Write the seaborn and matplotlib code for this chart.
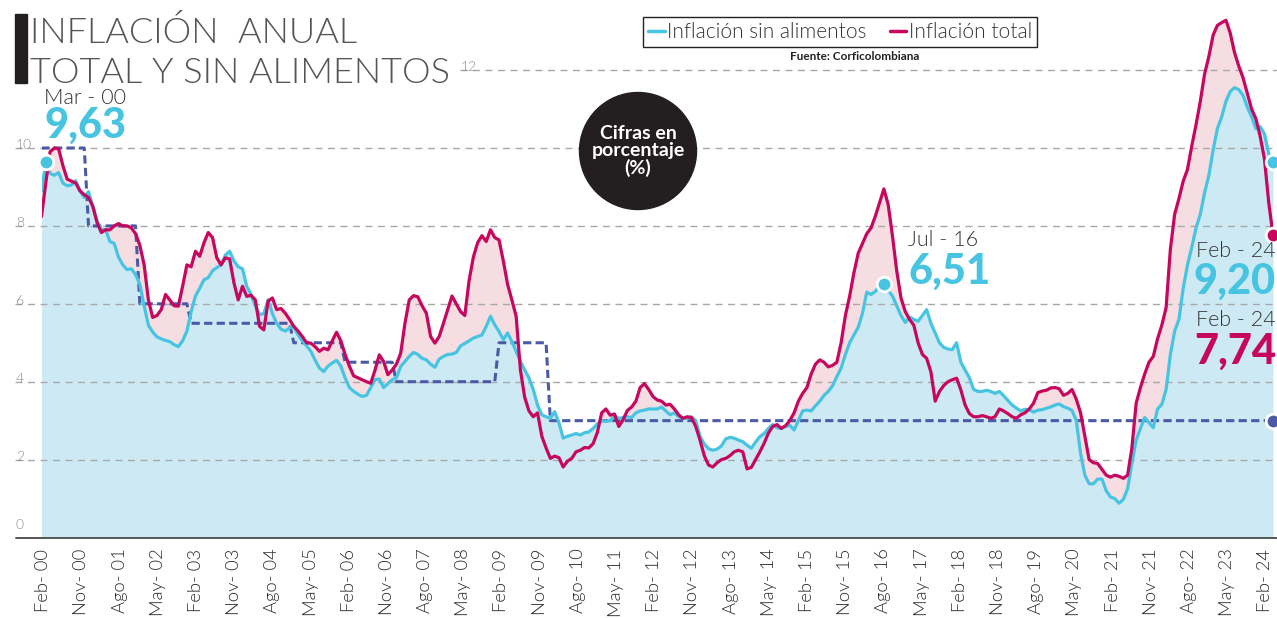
import numpy as np
import pandas as pd
import seaborn as sns
import matplotlib.pyplot as plt
from matplotlib.lines import Line2D
from matplotlib.patches import Ellipse, Rectangle

# Inflación anual mensual, feb-2000 a feb-2024 (una fila por año, de febrero a enero)
inflacion_total = [
    8.24, 9.1, 9.9, 10.0, 9.98, 9.55, 9.2, 9.15, 9.1, 8.9, 8.8, 8.73,
    8.5, 8.08, 7.83, 7.9, 7.9, 8.0, 8.06, 8.0, 8.0, 7.95, 7.8, 7.5,
    7.0, 6.1, 5.65, 5.7, 5.85, 6.24, 6.1, 5.95, 5.94, 6.45, 7.0, 6.95,
    7.35, 7.22, 7.57, 7.83, 7.7, 7.18, 7.0, 7.18, 7.15, 6.54, 6.1, 6.45,
    6.19, 6.22, 6.1, 5.42, 5.33, 6.07, 6.15, 5.85, 5.88, 5.76, 5.6, 5.42,
    5.3, 5.16, 5.0, 4.99, 4.9, 4.78, 4.86, 4.82, 5.05, 5.27, 5.05, 4.7,
    4.4, 4.15, 4.1, 4.05, 4.0, 3.96, 4.3, 4.69, 4.52, 4.18, 4.3, 4.45,
    4.73, 5.5, 6.1, 6.21, 6.18, 5.95, 5.76, 5.16, 4.99, 5.16, 5.5, 5.85,
    6.2, 6.0, 5.8, 5.7, 6.6, 7.2, 7.57, 7.75, 7.6, 7.9, 7.7, 7.64,
    7.1, 6.5, 6.1, 5.68, 4.3, 3.6, 3.25, 3.1, 3.2, 2.6, 2.3, 2.03,
    2.09, 2.05, 1.81, 1.96, 2.03, 2.2, 2.24, 2.31, 2.3, 2.41, 2.7, 3.2,
    3.3, 3.14, 3.17, 2.85, 3.02, 3.26, 3.35, 3.5, 3.85, 3.95, 3.8, 3.62,
    3.53, 3.5, 3.4, 3.42, 3.3, 3.15, 3.06, 3.1, 3.08, 2.85, 2.5, 2.1,
    1.86, 1.81, 1.92, 2.0, 2.03, 2.1, 2.2, 2.24, 2.2, 1.76, 1.8, 2.0,
    2.2, 2.42, 2.68, 2.85, 2.9, 2.8, 2.87, 3.0, 3.2, 3.5, 3.7, 3.85,
    4.2, 4.45, 4.56, 4.5, 4.38, 4.42, 4.5, 5.0, 5.7, 6.2, 6.8, 7.3,
    7.55, 7.8, 7.95, 8.25, 8.6, 8.95, 8.55, 7.75, 6.85, 6.15, 5.8, 5.6,
    5.45, 5.0, 4.7, 4.6, 4.25, 3.5, 3.75, 3.9, 4.0, 4.05, 4.09, 3.79,
    3.4, 3.18, 3.1, 3.1, 3.13, 3.1, 3.06, 3.1, 3.3, 3.25, 3.18, 3.1,
    3.06, 3.15, 3.2, 3.3, 3.45, 3.72, 3.76, 3.78, 3.84, 3.85, 3.82, 3.65,
    3.7, 3.8, 3.55, 3.2, 2.6, 2.0, 1.92, 1.9, 1.75, 1.6, 1.55, 1.6,
    1.57, 1.52, 1.6, 2.3, 3.45, 3.85, 4.2, 4.5, 4.65, 5.1, 5.45, 5.9,
    7.4, 8.3, 8.7, 9.15, 9.45, 10.05, 10.6, 11.2, 11.9, 12.35, 12.9, 13.15,
    13.22, 13.28, 12.95, 12.45, 12.1, 11.8, 11.4, 11.0, 10.75, 10.3, 9.72, 8.6,
    7.76,
]

inflacion_sin_alimentos = [
    8.9, 9.63, 9.35, 9.3, 9.37, 9.1, 9.03, 9.05, 9.16, 8.9, 8.73, 8.88,
    8.5, 8.13, 7.91, 7.9, 7.6, 7.55, 7.2, 7.0, 6.88, 6.9, 6.75, 6.5,
    5.95, 5.45, 5.28, 5.15, 5.1, 5.06, 5.03, 4.95, 4.9, 5.05, 5.3, 5.8,
    6.2, 6.4, 6.62, 6.67, 6.85, 6.93, 7.0, 7.25, 7.35, 7.1, 6.95, 6.9,
    6.45, 6.24, 5.95, 5.72, 5.75, 6.1, 5.75, 5.5, 5.35, 5.3, 5.38, 5.42,
    5.2, 5.05, 4.92, 4.78, 4.55, 4.35, 4.26, 4.4, 4.48, 4.55, 4.4, 4.1,
    3.85, 3.75, 3.68, 3.62, 3.65, 3.85, 4.05, 4.07, 3.85, 3.95, 4.05, 4.1,
    4.39, 4.52, 4.65, 4.75, 4.7, 4.6, 4.56, 4.45, 4.37, 4.58, 4.65, 4.7,
    4.71, 4.75, 4.92, 4.98, 5.05, 5.12, 5.16, 5.2, 5.42, 5.68, 5.46, 5.29,
    5.08, 5.25, 5.03, 4.78, 4.52, 4.3, 4.1, 3.8, 3.4, 3.15, 3.1, 3.06,
    3.23, 2.95, 2.55, 2.6, 2.63, 2.67, 2.63, 2.69, 2.71, 2.8, 2.92, 3.0,
    2.98, 3.0, 3.12, 3.06, 3.08, 3.1, 3.08, 3.2, 3.25, 3.27, 3.3, 3.3,
    3.3, 3.35, 3.25, 3.15, 3.2, 3.1, 3.06, 3.06, 3.1, 3.0, 2.6, 2.4,
    2.28, 2.24, 2.27, 2.35, 2.53, 2.57, 2.55, 2.5, 2.46, 2.37, 2.29, 2.45,
    2.59, 2.67, 2.8, 2.9, 2.82, 2.8, 2.85, 2.88, 2.76, 3.0, 3.25, 3.27,
    3.25, 3.38, 3.5, 3.65, 3.75, 3.9, 4.13, 4.35, 4.7, 5.0, 5.2, 5.4,
    5.76, 6.3, 6.24, 6.32, 6.45, 6.51, 6.35, 6.2, 5.95, 5.7, 5.52, 5.66,
    5.6, 5.55, 5.7, 5.85, 5.5, 5.25, 5.0, 4.88, 4.84, 4.82, 5.0, 4.5,
    4.3, 4.1, 3.8, 3.75, 3.75, 3.78, 3.75, 3.7, 3.75, 3.64, 3.52, 3.4,
    3.32, 3.25, 3.29, 3.28, 3.22, 3.27, 3.28, 3.32, 3.35, 3.4, 3.43, 3.36,
    3.32, 3.26, 3.0, 2.16, 1.6, 1.38, 1.38, 1.5, 1.5, 1.2, 1.04, 1.0,
    0.88, 0.98, 1.25, 1.9, 2.5, 2.8, 3.08, 2.95, 2.82, 3.3, 3.42, 3.8,
    4.7, 5.3, 5.6, 6.4, 7.0, 7.45, 7.95, 8.3, 8.85, 9.3, 9.95, 10.5,
    10.8, 11.2, 11.45, 11.55, 11.5, 11.35, 11.05, 10.8, 10.5, 10.55, 10.36, 9.85,
    9.65,
]

# Meta de inflación del Banco de la República por año
meta_anios = [2000, 2001, 2002, 2003, 2004, 2005, 2006, 2007, 2008, 2009, 2010]
meta_valores = [10, 8, 6, 5.5, 5.5, 5, 4.5, 4, 4, 5, 3]

etiquetas_x = [
    "Feb- 00", "Nov- 00", "Ago- 01", "May- 02", "Feb- 03", "Nov- 03", "Ago- 04",
    "May- 05", "Feb- 06", "Nov- 06", "Ago- 07", "May- 08", "Feb- 09", "Nov- 09",
    "Ago- 10", "May- 11", "Feb- 12", "Nov- 12", "Ago- 13", "May- 14", "Feb- 15",
    "Nov- 15", "Ago- 16", "May- 17", "Feb- 18", "Nov- 18", "Ago- 19", "May- 20",
    "Feb- 21", "Nov- 21", "Ago- 22", "May- 23", "Feb- 24",
]

AZUL = "#46c4e1"
ROJO = "#c6075d"
META = "#4a5aa8"
FONDO_AZUL = "#cdeaf4"
FONDO_ROSA = "#f6dde2"
LIGERA = 300

n = len(inflacion_total)
df = pd.DataFrame({
    "mes": np.arange(n),
    "total": inflacion_total,
    "sin_alimentos": inflacion_sin_alimentos,
})
# mes 0 = feb-2000; el mes m cae en el año 2000 + (m+1)//12
meta_por_anio = dict(zip(meta_anios, meta_valores))
df["meta"] = [meta_por_anio[min(2000 + (m + 1) // 12, 2010)] for m in df["mes"]]

sns.set_style("white")
plt.rcParams["font.family"] = ["Lato", "DejaVu Sans"]

W, H = 1277, 618
fig = plt.figure(figsize=(W / 100, H / 100), dpi=100)
ax = fig.add_axes([41.5 / W, (H - 537.5) / H, (1273 - 41.5) / W, 537.5 / H])
ax.set_xlim(0, n - 1)
ax.set_ylim(0, 13.8)
for s in ax.spines.values():
    s.set_visible(False)

def fx(px):
    return px / W

def fy(py):
    return 1 - py / H

# areas
ax.fill_between(df["mes"], 0, df["sin_alimentos"], color=FONDO_AZUL, lw=0, zorder=1)
ax.fill_between(df["mes"], df["sin_alimentos"], df["total"],
                where=df["total"] > df["sin_alimentos"], interpolate=True,
                color=FONDO_ROSA, lw=0, zorder=1)

# lineas de cuadricula
for v in [2, 4, 6, 8, 10]:
    ax.plot([-6.2, 289], [v, v], color="#a8a8a8", lw=1, ls=(0, (5, 4)),
            clip_on=False, zorder=2)
    fig.text(fx(16), fy(537.5 - v * 38.96 + 3), str(v), fontsize=10,
             color="#8a8a8a", fontweight=LIGERA, va="bottom")
ax.plot([97.8, 289], [12, 12], color="#a8a8a8", lw=1, ls=(0, (5, 4)),
        clip_on=False, zorder=2)
fig.text(fx(461), fy(537.5 - 12 * 38.96 + 3), "12", fontsize=10,
         color="#8a8a8a", fontweight=LIGERA, va="bottom")
ax.plot([-6, 289], [0, 0], color="#555555", lw=1.4, clip_on=False, zorder=4)
fig.text(fx(16), fy(531), "0", fontsize=10, color="#8a8a8a",
         fontweight=LIGERA, va="bottom")

# series
sns.lineplot(data=df, x="mes", y="meta", ax=ax, color=META, lw=2.2,
             linestyle=(0, (2.7, 1.4)), zorder=3)
sns.lineplot(data=df, x="mes", y="sin_alimentos", ax=ax, color=AZUL, lw=2.3, zorder=4)
sns.lineplot(data=df, x="mes", y="total", ax=ax, color=ROJO, lw=2.3, zorder=5)

# puntos destacados
for xm, yv, c in [(1, inflacion_sin_alimentos[1], AZUL),
                  (197, inflacion_sin_alimentos[197], AZUL),
                  (n - 1, inflacion_sin_alimentos[-1], AZUL),
                  (n - 1, inflacion_total[-1], ROJO),
                  (n - 1, meta_valores[-1], META)]:
    ax.plot(xm, yv, "o", ms=10.5, color=c, mec="white", mew=2, zorder=6,
            clip_on=False)

# ejes (las etiquetas del original quedan algo más juntas que los meses)
ax.set_xticks(np.linspace(0.4, 286.2, len(etiquetas_x)))
ax.set_xticklabels(etiquetas_x, rotation=90, fontsize=13.2, color="#2e2e2e",
                   fontweight=LIGERA)
ax.set_yticks([])
ax.tick_params(axis="x", length=0, pad=8)
ax.set_xlabel("")
ax.set_ylabel("")

# titulo
fig.add_artist(Rectangle((fx(15), fy(83)), 12 / W, 69 / H, color="#231f20",
                         transform=fig.transFigure))
fig.text(fx(30), fy(43), "INFLACIÓN  ANUAL", fontsize=26, color="#555555",
         fontweight=LIGERA, va="baseline")
fig.text(fx(30), fy(83), "TOTAL Y SIN ALIMENTOS", fontsize=26, color="#555555",
         fontweight=LIGERA, va="baseline")

# leyenda y fuente
handles = [Line2D([], [], color=AZUL, lw=2.5), Line2D([], [], color=ROJO, lw=2.5)]
leg = fig.legend(handles, ["Inflación sin alimentos", "Inflación total"],
                 loc="upper left", bbox_to_anchor=(fx(643), fy(17)), ncol=2,
                 frameon=True, fancybox=False, edgecolor="#222222",
                 framealpha=1, prop=dict(size=15, weight=LIGERA),
                 handlelength=0.8, handletextpad=0.12, columnspacing=1.1,
                 borderpad=0.25, borderaxespad=0)
leg.get_frame().set_linewidth(1.0)
for t in leg.get_texts():
    t.set_color("#333333")
fig.text(fx(855), fy(60), "Fuente: Corficolombiana", fontsize=8.5,
         color="#222222", fontweight="bold", ha="center", va="baseline")

# circulo
fig.add_artist(Ellipse((fx(638), fy(151)), 117 / W, 117 / H, color="#231f20",
                       transform=fig.transFigure))
fig.text(fx(638), fy(151), "Cifras en\nporcentaje\n(%)", fontsize=14,
         color="white", fontweight="bold", ha="center", va="center",
         linespacing=1.0)

# anotaciones
def anotar(x, y_fecha, y_valor, fecha, valor, color, ha="left"):
    fig.text(fx(x), fy(y_fecha), fecha, fontsize=15.5, color="#333333",
             fontweight=LIGERA, ha=ha, va="baseline")
    fig.text(fx(x), fy(y_valor), valor, fontsize=30, color=color,
             fontweight="black", ha=ha, va="baseline")

anotar(44, 104, 138, "Mar - 00", "9,63", AZUL)
anotar(908, 246, 284, "Jul - 16", "6,51", AZUL)
anotar(1276, 257, 294, "Feb - 24", "9,20", AZUL, ha="right")
anotar(1276, 326, 364, "Feb - 24", "7,74", ROJO, ha="right")

fig.savefig("out.png", dpi=100)
